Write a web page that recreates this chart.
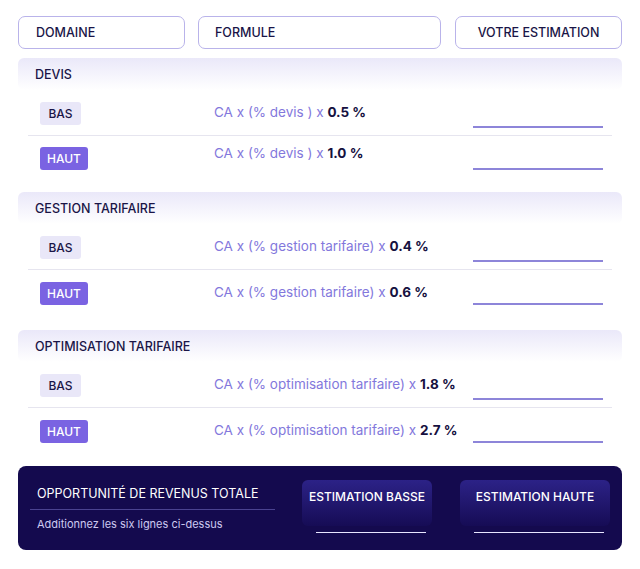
<!DOCTYPE html>
<html><head><meta charset="utf-8">
<script src="https://cdn.jsdelivr.net/npm/chart.js@4"></script>
<style>
body{margin:0;width:640px;height:569px;background:#fff;font-family:Inter,"Noto Sans",sans-serif;position:relative;overflow:hidden;color:#1a1547}
.a{position:absolute;box-sizing:border-box}
.hd{border:1px solid #b9b3ea;border-radius:7px;height:33px;top:16px;font-size:12.5px;font-weight:500;display:flex;align-items:center}
.band{left:18px;width:604px;height:32px;border-radius:6px;background:linear-gradient(#eae8f9,#fff);font-size:12.5px;font-weight:500;padding:9px 0 0 17px}
.badge{left:40px;height:23px;border-radius:3px;font-size:12px;font-weight:500;display:flex;align-items:center;justify-content:center}
.f{left:214px;font-size:13.5px;color:#8378dc}
.f b{color:#16113f;font-weight:700}
.ul{left:473px;width:130px;height:1.5px;background:#8d85d9}
.sep{left:28px;width:584px;height:1px;background:#e6e5ef}
</style></head><body>
<script>
const headers = ['DOMAINE', 'FORMULE', 'VOTRE ESTIMATION'];
const domains = ['DEVIS', 'GESTION TARIFAIRE', 'OPTIMISATION TARIFAIRE'];
const formulas = ['% devis ', '% gestion tarifaire', '% optimisation tarifaire'];
const lowRates = [0.5, 0.4, 1.8];
const highRates = [1.0, 0.6, 2.7];

const el = (cls, css, html) => {
  const d = document.createElement('div');
  d.className = 'a ' + cls;
  d.style.cssText = css;
  d.innerHTML = html || '';
  document.body.appendChild(d);
  return d;
};

el('hd', 'left:18px;width:167px;padding-left:17px', headers[0]);
el('hd', 'left:198px;width:243px;padding-left:16px', headers[1]);
el('hd', 'left:455px;width:167px;justify-content:center', headers[2]);

const bandTops = [58, 192, 330];
domains.forEach((name, i) => {
  const t = bandTops[i];
  el('band', `top:${t}px`, name);
  const lowY = t + 44, highY = i === 0 ? t + 89 : t + 90;
  el('badge', `top:${lowY}px;width:41px;background:#e9e7f8`, 'BAS');
  el('badge', `top:${highY}px;width:48px;background:#7a63e2;color:#fff`, 'HAUT');
  el('f', `top:${lowY + 2}px`, `CA x (${formulas[i]}) x <b>${lowRates[i].toFixed(1)} %</b>`);
  el('f', `top:${highY + (i === 0 ? -2 : 2)}px`, `CA x (${formulas[i]}) x <b>${highRates[i].toFixed(1)} %</b>`);
  el('ul', `top:${lowY + 24}px`);
  el('ul', `top:${highY + 21}px`);
  el('sep', `top:${t + 77}px`);
});

el('', 'left:18px;top:466px;width:604px;height:84px;border-radius:8px;background:#140a4e');
el('', 'left:37px;top:486px;font-size:12.5px;color:#fff', 'OPPORTUNITÉ DE REVENUS TOTALE');
el('', 'left:30px;top:509px;width:245px;height:1px;background:#4a4290');
el('', 'left:37px;top:517px;font-size:11px;color:#cdc9f1', 'Additionnez les six lignes ci-dessus');
[['ESTIMATION BASSE', 302, 130], ['ESTIMATION HAUTE', 460, 150]].forEach(([txt, x, w]) => {
  el('', `left:${x}px;top:480px;width:${w}px;height:46px;border-radius:6px;background:linear-gradient(#2c2287,#160c55);color:#fff;font-size:12px;font-weight:500;text-align:center;padding-top:9px`, txt);
  el('', `left:${x + 14}px;top:532px;width:${w - 20}px;height:1px;background:#e8e6ff`);
});
</script>
</body></html>
